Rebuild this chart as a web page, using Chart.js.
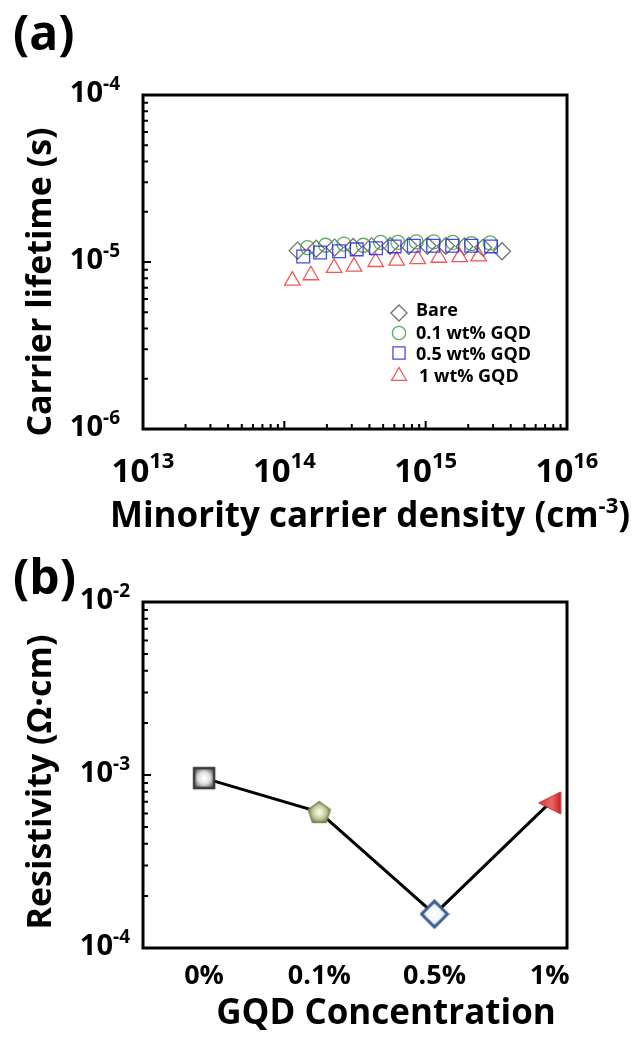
<!DOCTYPE html>
<html>
<head>
<meta charset="utf-8">
<script src="https://cdn.jsdelivr.net/npm/chart.js@4.4.0/dist/chart.umd.min.js"></script>
<style>
  html, body { margin: 0; padding: 0; background: #fff; }
  #page { position: relative; width: 633px; height: 1041px; overflow: hidden; }
  .panel { position: absolute; left: 0; }
  #wrapA { top: 0; }
  #wrapB { top: 540px; }
  .tag { position: absolute; left: 13px; font: bold 48px "Open Sans", Lato, sans-serif; line-height: 1; }
</style>
</head>
<body>
<div id="page">
  <div class="panel" id="wrapA"><canvas id="chartA" width="633" height="540"></canvas></div>
  <div class="panel" id="wrapB"><canvas id="chartB" width="633" height="501"></canvas></div>
  <div class="tag" style="top:8px">(a)</div>
  <div class="tag" style="top:552px">(b)</div>
</div>
<script>
// Panel (a) - carrier lifetime vs minority carrier density
const bareDensity = [1.24e14, 1.68e14, 2.27e14, 3.07e14, 4.15e14, 5.61e14, 7.6e14, 1.03e15, 1.39e15, 1.88e15, 2.55e15, 3.47e15];
const bareLifetime = [1.17e-5, 1.2e-5, 1.22e-5, 1.23e-5, 1.24e-5, 1.25e-5, 1.25e-5, 1.25e-5, 1.25e-5, 1.24e-5, 1.22e-5, 1.16e-5];
const gqd01Density = [1.46e14, 1.96e14, 2.64e14, 3.62e14, 4.8e14, 6.36e14, 8.58e14, 1.14e15, 1.56e15, 2.11e15, 2.86e15];
const gqd01Lifetime = [1.22e-5, 1.26e-5, 1.28e-5, 1.26e-5, 1.31e-5, 1.31e-5, 1.32e-5, 1.32e-5, 1.31e-5, 1.29e-5, 1.3e-5];
const gqd05Density = [1.36e14, 1.79e14, 2.44e14, 3.25e14, 4.45e14, 6.03e14, 8.24e14, 1.13e15, 1.54e15, 2.1e15, 2.9e15];
const gqd05Lifetime = [1.08e-5, 1.14e-5, 1.16e-5, 1.19e-5, 1.21e-5, 1.24e-5, 1.25e-5, 1.25e-5, 1.25e-5, 1.25e-5, 1.24e-5];
const gqd1Density = [1.14e14, 1.54e14, 2.25e14, 3.11e14, 4.43e14, 6.23e14, 8.79e14, 1.24e15, 1.74e15, 2.37e15];
const gqd1Lifetime = [7.73e-6, 8.33e-6, 9.21e-6, 9.38e-6, 1.0e-5, 1.02e-5, 1.04e-5, 1.06e-5, 1.07e-5, 1.08e-5];
const seriesNames = ['Bare', '0.1 wt% GQD', '0.5 wt% GQD', '1 wt% GQD'];
const densityExps = [13, 14, 15, 16];
const lifetimeExps = [-6, -5, -4];

// Panel (b) - resistivity vs GQD concentration
const concentrations = ['0%', '0.1%', '0.5%', '1%'];
const resistivity = [9.6e-4, 6.1e-4, 1.57e-4, 6.9e-4];
const resistivityExps = [-4, -3, -2];

const FONT = '"Open Sans", Lato, sans-serif';

function toPoints(xs, ys) {
  return xs.map((x, i) => ({ x: x, y: ys[i] }));
}

// draw a row of text runs, some of them raised (superscripts)
function drawRuns(ctx, runs, x, y, align) {
  let total = 0;
  runs.forEach(r => {
    ctx.font = 'bold ' + r.size + 'px ' + FONT;
    r.w = ctx.measureText(r.text).width;
    total += r.w;
  });
  let cx = x;
  if (align === 'center') cx = x - total / 2;
  if (align === 'right') cx = x - total;
  ctx.textAlign = 'left';
  ctx.textBaseline = 'alphabetic';
  ctx.fillStyle = '#000';
  runs.forEach(r => {
    ctx.font = 'bold ' + r.size + 'px ' + FONT;
    ctx.fillText(r.text, cx, y - (r.rise || 0));
    cx += r.w;
  });
}

function power(exp, size, supSize) {
  return [{ text: '10', size: size }, { text: String(exp), size: supSize, rise: size * 0.42 }];
}

function drawFrame(ctx, area) {
  ctx.save();
  ctx.strokeStyle = '#000';
  ctx.lineWidth = 3;
  ctx.strokeRect(area.left, area.top, area.right - area.left, area.bottom - area.top);
  ctx.restore();
}

// inward log ticks along the left or bottom edge
function drawLogTicks(ctx, scale, area, lo, hi, horizontal) {
  ctx.save();
  ctx.strokeStyle = '#000';
  ctx.lineWidth = 2;
  ctx.beginPath();
  for (let e = lo; e < hi; e++) {
    for (let m = 1; m < 10; m++) {
      if (e === lo && m === 1) continue;
      const p = scale.getPixelForValue(m * Math.pow(10, e));
      const len = m === 1 ? 8 : 5;
      if (horizontal) {
        ctx.moveTo(p, area.bottom);
        ctx.lineTo(p, area.bottom - len);
      } else {
        ctx.moveTo(area.left, p);
        ctx.lineTo(area.left + len, p);
      }
    }
  }
  ctx.stroke();
  ctx.restore();
}

function drawShape(ctx, style, x, y, r) {
  ctx.beginPath();
  if (style === 'rectRot') {
    ctx.moveTo(x - r, y); ctx.lineTo(x, y - r); ctx.lineTo(x + r, y); ctx.lineTo(x, y + r); ctx.closePath();
  } else if (style === 'circle') {
    ctx.arc(x, y, r, 0, Math.PI * 2);
  } else if (style === 'rect') {
    const s = r * Math.SQRT1_2;
    ctx.rect(x - s, y - s, 2 * s, 2 * s);
  } else if (style === 'triangle') {
    ctx.moveTo(x, y - r);
    ctx.lineTo(x + r * 0.866, y + r * 0.5);
    ctx.lineTo(x - r * 0.866, y + r * 0.5);
    ctx.closePath();
  }
  ctx.stroke();
}

const styleA = [
  { pointStyle: 'rectRot', color: 'rgba(90,90,90,0.85)', radius: 8.5 },
  { pointStyle: 'circle', color: 'rgba(60,160,60,0.85)', radius: 7 },
  { pointStyle: 'rect', color: 'rgba(40,40,235,0.85)', radius: 9 },
  { pointStyle: 'triangle', color: 'rgba(235,60,60,0.85)', radius: 9 }
];
const dataA = [
  toPoints(bareDensity, bareLifetime),
  toPoints(gqd01Density, gqd01Lifetime),
  toPoints(gqd05Density, gqd05Lifetime),
  toPoints(gqd1Density, gqd1Lifetime)
];
const orderA = [3, 2, 0, 1];

const panelA = {
  id: 'panelA',
  afterDraw(chart) {
    const ctx = chart.ctx;
    const area = chart.chartArea;
    const xs = chart.scales.x, ys = chart.scales.y;
    drawFrame(ctx, area);
    drawLogTicks(ctx, xs, area, 13, 16, true);
    drawLogTicks(ctx, ys, area, -6, -4, false);
    densityExps.forEach(e => {
      drawRuns(ctx, power(e, 33, 22), xs.getPixelForValue(Math.pow(10, e)), 482, 'center');
    });
    lifetimeExps.forEach(e => {
      drawRuns(ctx, power(e, 29, 19), 120, ys.getPixelForValue(Math.pow(10, e)) + 7, 'right');
    });
    drawRuns(ctx, [
      { text: 'Minority carrier density (cm', size: 35 },
      { text: '-3', size: 22, rise: 14 },
      { text: ')', size: 35 }
    ], 370, 527, 'center');
    ctx.save();
    ctx.translate(51, 282);
    ctx.rotate(-Math.PI / 2);
    drawRuns(ctx, [{ text: 'Carrier lifetime (s)', size: 34 }], 0, 0, 'center');
    ctx.restore();
    // legend inside the plot
    const rows = [313, 333, 353, 376];
    const textY = [316, 339, 360, 382];
    seriesNames.forEach((name, i) => {
      ctx.save();
      ctx.strokeStyle = styleA[i].color;
      ctx.lineWidth = 1.3;
      drawShape(ctx, styleA[i].pointStyle, 399, rows[i], styleA[i].radius * 0.95);
      ctx.restore();
      drawRuns(ctx, [{ text: name, size: 18 }], i === 3 ? 419 : 416, textY[i], 'left');
    });
  }
};

new Chart(document.getElementById('chartA'), {
  type: 'scatter',
  data: {
    datasets: dataA.map((pts, i) => ({
      label: seriesNames[i],
      data: pts,
      order: orderA[i],
      pointStyle: styleA[i].pointStyle,
      pointRadius: styleA[i].radius,
      pointBorderColor: styleA[i].color,
      pointBackgroundColor: 'rgba(0,0,0,0)',
      pointBorderWidth: 1.3
    }))
  },
  options: {
    responsive: false,
    animation: false,
    layout: { padding: { top: 95, right: 66, left: 0, bottom: 0 } },
    plugins: { legend: { display: false }, tooltip: { enabled: false } },
    scales: {
      x: {
        type: 'logarithmic', min: 1e13, max: 1e16,
        grid: { display: false }, ticks: { display: false }, border: { display: false },
        afterFit: s => { s.height = 540 - 429; }
      },
      y: {
        type: 'logarithmic', min: 1e-6, max: 1e-4,
        grid: { display: false }, ticks: { display: false }, border: { display: false },
        afterFit: s => { s.width = 143; }
      }
    }
  },
  plugins: [panelA]
});

// gradient markers for panel (b)
function makeMarker(kind) {
  const c = document.createElement('canvas');
  c.width = 30; c.height = 30;
  const g = c.getContext('2d');
  if (kind === 'square') {
    const grad = g.createRadialGradient(15, 15, 1, 15, 15, 12);
    grad.addColorStop(0, '#ffffff');
    grad.addColorStop(0.45, '#e0e0e0');
    grad.addColorStop(1, '#5a5a5a');
    g.fillStyle = grad;
    g.fillRect(4, 4, 22, 22);
    g.strokeStyle = '#3a3a3a';
    g.lineWidth = 2.5;
    g.strokeRect(5, 5, 20, 20);
  } else if (kind === 'pentagon') {
    g.beginPath();
    for (let k = 0; k < 5; k++) {
      const a = -Math.PI / 2 + k * 2 * Math.PI / 5;
      const px = 15 + 11.5 * Math.cos(a), py = 16 + 11.5 * Math.sin(a);
      k ? g.lineTo(px, py) : g.moveTo(px, py);
    }
    g.closePath();
    const grad = g.createRadialGradient(15, 15, 1, 15, 15, 12);
    grad.addColorStop(0, '#fafae6');
    grad.addColorStop(0.5, '#c5cc9c');
    grad.addColorStop(1, '#6f7a48');
    g.fillStyle = grad;
    g.fill();
    g.strokeStyle = '#7a8350';
    g.lineWidth = 1.5;
    g.stroke();
  } else if (kind === 'diamond') {
    g.beginPath();
    g.moveTo(2, 15); g.lineTo(15, 2); g.lineTo(28, 15); g.lineTo(15, 28); g.closePath();
    const grad = g.createRadialGradient(15, 15, 1, 15, 15, 13);
    grad.addColorStop(0, '#ffffff');
    grad.addColorStop(0.6, '#eef2f8');
    grad.addColorStop(1, '#9fb4d4');
    g.fillStyle = grad;
    g.fill();
    g.strokeStyle = '#3d5f8f';
    g.lineWidth = 3;
    g.stroke();
  } else if (kind === 'triangle') {
    g.beginPath();
    g.moveTo(4, 15); g.lineTo(26, 4); g.lineTo(26, 26); g.closePath();
    const grad = g.createLinearGradient(4, 15, 26, 15);
    grad.addColorStop(0, '#e03a3a');
    grad.addColorStop(0.6, '#e86868');
    grad.addColorStop(1, '#c81f24');
    g.fillStyle = grad;
    g.fill();
    g.strokeStyle = '#c8262b';
    g.lineWidth = 1;
    g.stroke();
  }
  return c;
}
const markersB = ['square', 'pentagon', 'diamond', 'triangle'].map(makeMarker);

const panelB = {
  id: 'panelB',
  afterDraw(chart) {
    const ctx = chart.ctx;
    const area = chart.chartArea;
    const xs = chart.scales.x, ys = chart.scales.y;
    drawFrame(ctx, area);
    drawLogTicks(ctx, ys, area, -4, -2, false);
    resistivityExps.forEach(e => {
      drawRuns(ctx, power(e, 29, 19), 130, ys.getPixelForValue(Math.pow(10, e)) + 7, 'right');
    });
    concentrations.forEach((c, i) => {
      drawRuns(ctx, [{ text: c, size: 27 }], xs.getPixelForValue(i), 444, 'center');
    });
    drawRuns(ctx, [{ text: 'GQD Concentration', size: 35 }], 386, 484, 'center');
    ctx.save();
    ctx.translate(51, 782 - 540);
    ctx.rotate(-Math.PI / 2);
    drawRuns(ctx, [{ text: 'Resistivity (\u03A9\u00B7cm)', size: 34 }], 0, 0, 'center');
    ctx.restore();
  }
};

new Chart(document.getElementById('chartB'), {
  type: 'line',
  data: {
    datasets: [{
      label: 'Resistivity',
      data: resistivity.map((v, i) => ({ x: i, y: v })),
      borderColor: '#000',
      borderWidth: 3,
      tension: 0,
      pointStyle: markersB,
      pointRadius: 12
    }]
  },
  options: {
    responsive: false,
    animation: false,
    layout: { padding: { top: 62, right: 66, left: 0, bottom: 0 } },
    plugins: { legend: { display: false }, tooltip: { enabled: false } },
    scales: {
      x: {
        type: 'linear', min: -0.53, max: 3.15,
        grid: { display: false }, ticks: { display: false }, border: { display: false },
        afterFit: s => { s.height = 501 - 408; }
      },
      y: {
        type: 'logarithmic', min: 1e-4, max: 1e-2,
        grid: { display: false }, ticks: { display: false }, border: { display: false },
        afterFit: s => { s.width = 143; }
      }
    }
  },
  plugins: [panelB]
});
</script>
</body>
</html>
